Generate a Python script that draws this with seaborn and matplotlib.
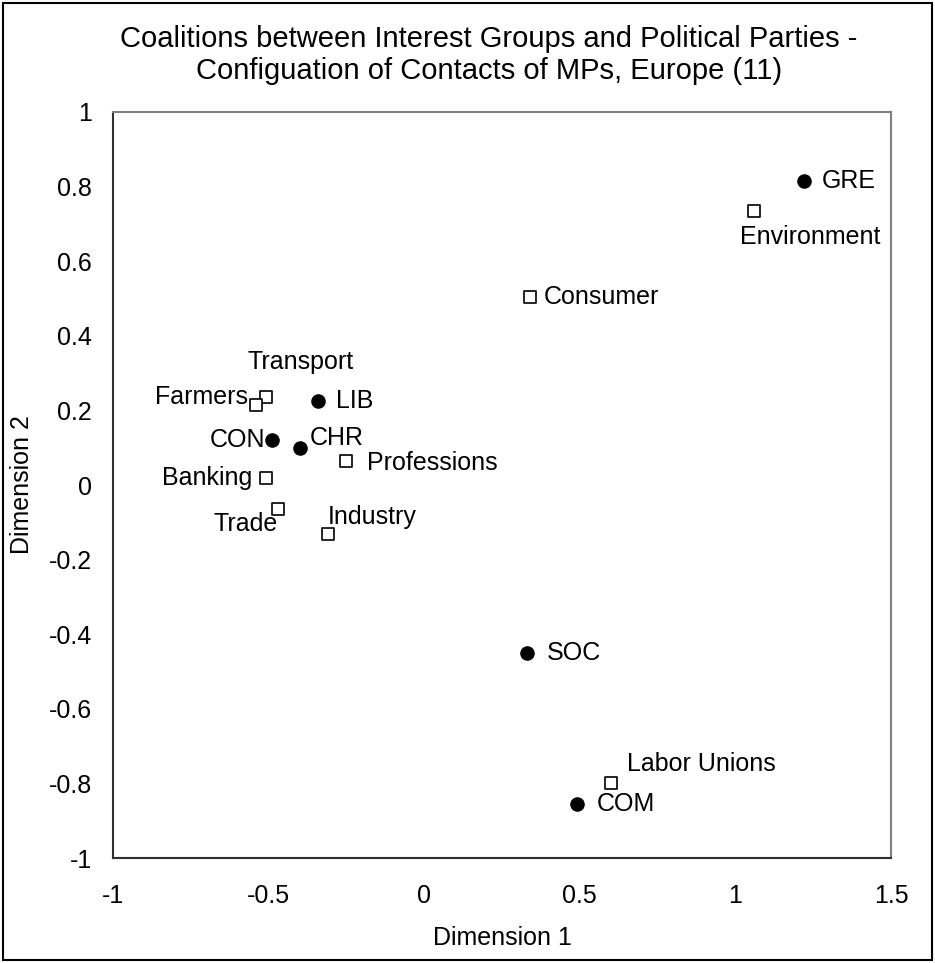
import matplotlib
matplotlib.use("Agg")
import matplotlib.pyplot as plt
from matplotlib.patches import Rectangle
import seaborn as sns
import pandas as pd

# Coordinates of actors on the two MDS dimensions
names = ["GRE", "Environment", "Consumer", "Transport", "Farmers", "LIB", "CON",
         "CHR", "Professions", "Banking", "Trade", "Industry", "SOC",
         "Labor Unions", "COM"]
dim1 = [1.22, 1.06, 0.34, -0.51, -0.54, -0.34, -0.49,
        -0.40, -0.25, -0.51, -0.47, -0.31, 0.33,
        0.60, 0.49]
dim2 = [0.815, 0.735, 0.505, 0.235, 0.215, 0.225, 0.12,
        0.10, 0.065, 0.02, -0.065, -0.13, -0.45,
        -0.80, -0.855]
kind = ["Party", "Group", "Group", "Group", "Group", "Party", "Party",
        "Party", "Group", "Group", "Group", "Group", "Party",
        "Group", "Party"]

# label offsets (pixels) and alignment for each annotation
label_pos = {
    "GRE": (18, 0, "left", "center"),
    "Environment": (-14, -14, "left", "top"),
    "Consumer": (14, 0, "left", "center"),
    "Transport": (-18, 23, "left", "bottom"),
    "Farmers": (-8, 8, "right", "center"),
    "LIB": (18, 0, "left", "center"),
    "CON": (-6, 0, "right", "center"),
    "CHR": (10, 10, "left", "center"),
    "Professions": (21, -2, "left", "center"),
    "Banking": (-13, 0, "right", "center"),
    "Trade": (0, -15, "right", "center"),
    "Industry": (0, 17, "left", "center"),
    "SOC": (20, 0, "left", "center"),
    "Labor Unions": (16, 19, "left", "center"),
    "COM": (20, 0, "left", "center"),
}

df = pd.DataFrame({"name": names, "Dimension 1": dim1, "Dimension 2": dim2, "kind": kind})

sns.set_theme(style="white")
plt.rcParams["font.family"] = ["Liberation Sans", "DejaVu Sans"]
plt.rcParams["text.color"] = "black"
plt.rcParams["axes.labelcolor"] = "black"

fig = plt.figure(figsize=(9.35, 9.63), dpi=100)
ax = fig.add_axes([0.1209, 0.1090, 0.8320, 0.7747])

sns.scatterplot(data=df[df.kind == "Party"], x="Dimension 1", y="Dimension 2",
                marker="o", s=110, color="black", edgecolor="black", linewidth=0,
                ax=ax, legend=False, zorder=3)
sns.scatterplot(data=df[df.kind == "Group"], x="Dimension 1", y="Dimension 2",
                marker="s", s=75, facecolor="white", edgecolor="black", linewidth=1.2,
                ax=ax, legend=False, zorder=3)

for n, x, y in zip(names, dim1, dim2):
    dx, dy, ha, va = label_pos[n]
    ax.annotate(n, (x, y), xytext=(dx, dy), textcoords="offset pixels",
                ha=ha, va=va, fontsize=18, color="black")

ax.set_xlim(-1, 1.5)
ax.set_ylim(-1, 1)
ax.set_xticks([-1, -0.5, 0, 0.5, 1, 1.5])
ax.set_xticklabels(["-1", "-0.5", "0", "0.5", "1", "1.5"])
ax.set_yticks([-1, -0.8, -0.6, -0.4, -0.2, 0, 0.2, 0.4, 0.6, 0.8, 1])
ax.set_yticklabels(["-1", "-0.8", "-0.6", "-0.4", "-0.2", "0", "0.2", "0.4", "0.6", "0.8", "1"])
ax.tick_params(axis="x", length=6, width=1.2, color="#808080", labelsize=18, pad=13, labelcolor="black")
ax.tick_params(axis="y", length=0, labelsize=18, pad=15, labelcolor="black")
ax.set_xlabel("Dimension 1", fontsize=18, labelpad=13)
ax.set_ylabel("Dimension 2", fontsize=18, labelpad=11)

for side in ["top", "right"]:
    ax.spines[side].set_color("#808080")
    ax.spines[side].set_linewidth(1.5)
for side in ["left", "bottom"]:
    ax.spines[side].set_color("#303030")
    ax.spines[side].set_linewidth(1.5)

fig.suptitle("Coalitions between Interest Groups and Political Parties -\n"
             "Configuation of Contacts of MPs, Europe (11)",
             fontsize=21, x=0.523, y=0.974, va="top", linespacing=1.2)

fig.patches.append(Rectangle((0.003, 0.003), 0.994, 0.994, transform=fig.transFigure,
                             fill=False, edgecolor="black", linewidth=1.5))

fig.savefig("out.png", dpi=100, facecolor="white")
